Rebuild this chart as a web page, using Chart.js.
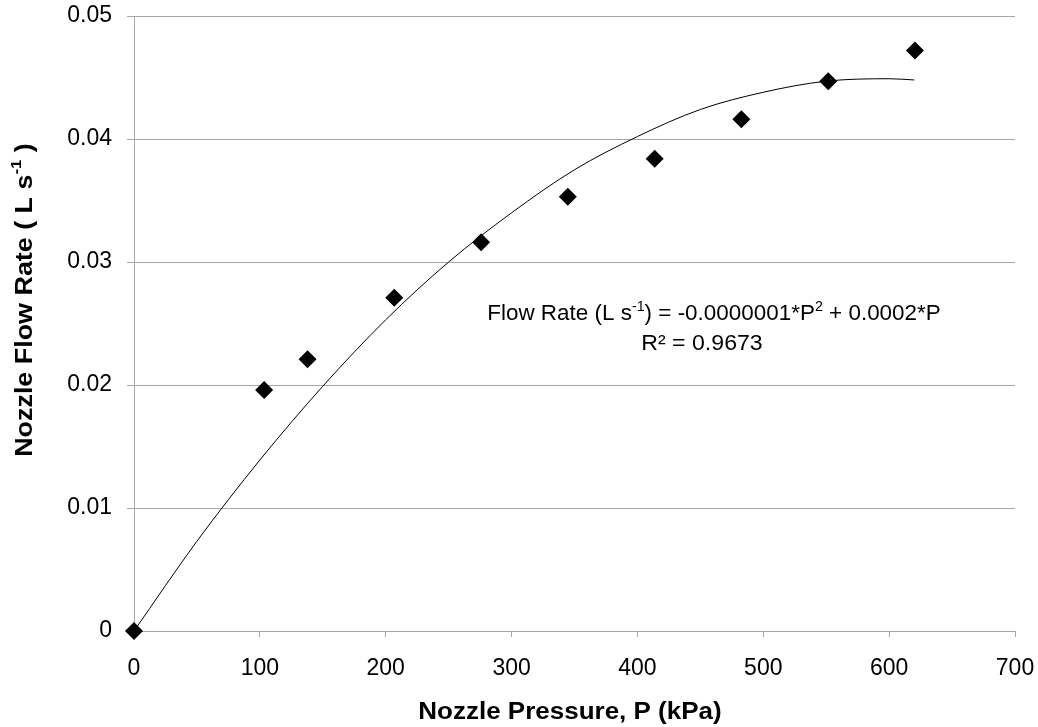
<!DOCTYPE html>
<html>
<head>
<meta charset="utf-8">
<script src="https://cdn.jsdelivr.net/npm/chart.js@4.4.1/dist/chart.umd.min.js"></script>
<style>
html,body{margin:0;padding:0;background:#fff;}
#wrap{width:1038px;height:727px;position:relative;}
</style>
</head>
<body>
<div id="wrap"><canvas id="c" width="1038" height="727"></canvas></div>
<script>
// Measured data: nozzle pressure (kPa) and flow rate (L/s)
const pressure = [0, 103.4, 137.9, 206.8, 275.8, 344.7, 413.7, 482.6, 551.6, 620.5];
const flowRate = [0, 0.0196, 0.0221, 0.0271, 0.0316, 0.0353, 0.0384, 0.0416, 0.0447, 0.0472];
// Trendline
const trendP = [0, 50, 100, 150, 200, 250, 300, 350, 400, 450, 500, 550, 600, 620];
const trendQ = [0, 0.0073, 0.0139, 0.0199, 0.0253, 0.0300, 0.0340, 0.0375, 0.0402, 0.0424, 0.0438, 0.0447, 0.0449, 0.0448];
const xTicks = [0, 100, 200, 300, 400, 500, 600, 700];
const yTicks = [0, 0.01, 0.02, 0.03, 0.04, 0.05];

const FONT = '"Liberation Sans", Arial, sans-serif';

function drawRich(ctx, segs, cx, cy, size, bold, stretch) {
  const w = bold ? 'bold ' : '';
  let total = 0;
  segs.forEach(s => {
    ctx.font = w + (s.sup ? Math.round(size * 0.62) : size) + 'px ' + FONT;
    s.w = ctx.measureText(s.t).width;
    total += s.w;
  });
  ctx.save();
  ctx.translate(cx, cy);
  ctx.scale(stretch || 1, 1);
  let x = -total / 2;
  ctx.textBaseline = 'middle';
  ctx.textAlign = 'left';
  segs.forEach(s => {
    ctx.font = w + (s.sup ? Math.round(size * 0.62) : size) + 'px ' + FONT;
    ctx.fillText(s.t, x, s.sup ? -size * 0.32 : 0);
    x += s.w;
  });
  ctx.restore();
}

const textPlugin = {
  id: 'texts',
  afterDraw(chart) {
    const ctx = chart.ctx;
    ctx.save();
    ctx.fillStyle = '#000';
    // x title
    drawRich(ctx, [{t: 'Nozzle Pressure, P (kPa)'}], 570, 713, 23, true, 1.13);
    // y title
    ctx.save();
    ctx.translate(25, 300);
    ctx.rotate(-Math.PI / 2);
    drawRich(ctx, [{t: 'Nozzle Flow Rate ( L s'}, {t: '-1', sup: true}, {t: ' )'}], 0, 0, 24, true, 1.12);
    ctx.restore();
    // equation
    drawRich(ctx, [
      {t: 'Flow Rate (L s'}, {t: '-1', sup: true}, {t: ') = -0.0000001*P'}, {t: '2', sup: true}, {t: ' + 0.0002*P'}
    ], 714, 314, 22, false, 1.02);
    drawRich(ctx, [{t: 'R\u00B2 = 0.9673'}], 702, 344, 22, false, 1.05);
    ctx.restore();
  }
};

function noPad(s) { s.paddingLeft = 0; s.paddingRight = 0; s.paddingTop = 0; s.paddingBottom = 0; }

new Chart(document.getElementById('c'), {
  data: {
    datasets: [
      {
        type: 'line',
        data: trendP.map((p, i) => ({x: p, y: trendQ[i]})),
        borderColor: '#000',
        borderWidth: 1,
        pointRadius: 0,
        fill: false,
        cubicInterpolationMode: 'monotone',
        order: 2
      },
      {
        type: 'scatter',
        data: pressure.map((p, i) => ({x: p, y: flowRate[i]})),
        pointStyle: 'rectRot',
        pointRadius: 9,
        pointHoverRadius: 9,
        backgroundColor: '#000',
        borderColor: '#000',
        borderWidth: 0,
        clip: false,
        order: 1
      }
    ]
  },
  options: {
    responsive: false,
    animation: false,
    events: [],
    layout: {padding: {left: 0, right: 23, top: 16, bottom: 0}},
    plugins: {legend: {display: false}, tooltip: {enabled: false}},
    scales: {
      x: {
        type: 'linear',
        min: 0, max: 700,
        afterBuildTicks: s => { s.ticks = xTicks.map(v => ({value: v})); },
        afterFit: s => { s.height = 96; noPad(s); },
        grid: {display: true, drawOnChartArea: false, drawTicks: true, tickLength: 6, color: '#a6a6a6', lineWidth: 1},
        border: {display: true, color: '#a6a6a6', width: 1},
        ticks: {color: '#000', font: {family: FONT, size: 23}, padding: 18, maxRotation: 0}
      },
      y: {
        type: 'linear',
        min: 0, max: 0.05,
        afterBuildTicks: s => { s.ticks = yTicks.map(v => ({value: v})); },
        afterFit: s => { s.width = 134; noPad(s); },
        grid: {display: true, drawTicks: true, tickLength: 7, color: '#a6a6a6', lineWidth: 1},
        border: {display: true, color: '#a6a6a6', width: 1},
        ticks: {color: '#000', font: {family: FONT, size: 23}, padding: 15,
          callback: v => v === 0 ? '0' : v.toFixed(2)}
      }
    }
  },
  plugins: [textPlugin]
});
</script>
</body>
</html>
